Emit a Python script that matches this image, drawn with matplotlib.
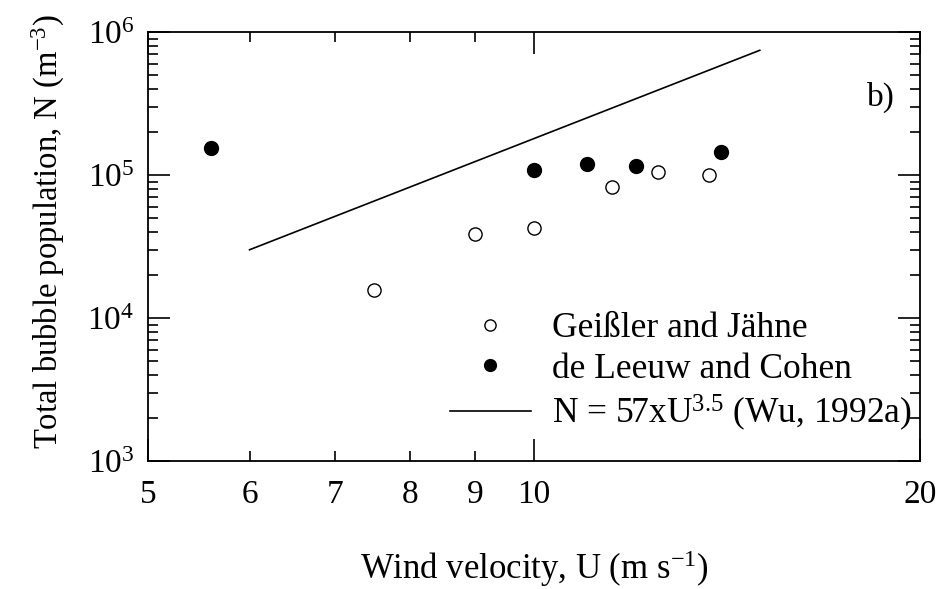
import matplotlib
matplotlib.use("Agg")
import matplotlib.pyplot as plt
from matplotlib.ticker import NullFormatter, FixedLocator, LogLocator

plt.rcParams['font.family'] = ['Liberation Serif', 'DejaVu Serif']
plt.rcParams['mathtext.fontset'] = 'custom'
plt.rcParams['mathtext.rm'] = 'Liberation Serif'
plt.rcParams['mathtext.it'] = 'Liberation Serif:italic'
plt.rcParams['mathtext.bf'] = 'Liberation Serif:bold'

# Data
geissler_U = [7.5, 9.0, 10.0, 11.5, 12.5, 13.7]
geissler_N = [1.57e4, 3.86e4, 4.26e4, 8.2e4, 1.05e5, 1.0e5]
leeuw_U = [5.6, 10.0, 11.0, 12.0, 14.0]
leeuw_N = [1.55e5, 1.08e5, 1.19e5, 1.16e5, 1.45e5]
wu_U = [6.0, 15.0]
wu_N = [3.0e4, 7.45e5]

x_major = [5, 10, 20]
x_minor = [6, 7, 8, 9]
y_major = [1e3, 1e4, 1e5, 1e6]
y_major_labels = [r'$10^{3}$', r'$10^{4}$', r'$10^{5}$', r'$10^{6}$']

FS = 24

fig = plt.figure(figsize=(9.4, 5.89), dpi=100)
ax = fig.add_axes([148/940, 1-461/589, (920-148)/940, (461-32)/589])
ax.set_xscale('log')
ax.set_yscale('log')
ax.set_xlim(5, 20)
ax.set_ylim(1e3, 1e6)

ax.plot(geissler_U, geissler_N, 'o', ms=9.5, mfc='white', mec='black', mew=1.0,
        linestyle='none', label='Geißler and Jähne')
ax.plot(leeuw_U, leeuw_N, 'o', ms=10, mfc='black', mec='black',
        linestyle='none', label='de Leeuw and Cohen')
ax.plot(wu_U, wu_N, '-', color='black', lw=1.2,
        label=r'N = 57xU$^{3.5}$ (Wu, 1992a)')

ax.xaxis.set_major_locator(FixedLocator(x_major))
ax.xaxis.set_minor_locator(FixedLocator(x_minor))
ax.set_xticklabels([str(v) for v in x_major])
ax.set_xticklabels([str(v) for v in x_minor], minor=True)

ax.yaxis.set_major_locator(FixedLocator(y_major))
ax.set_yticklabels(y_major_labels)
ax.yaxis.set_minor_locator(LogLocator(base=10, subs=range(2, 10)))
ax.yaxis.set_minor_formatter(NullFormatter())

ax.tick_params(which='both', direction='in', top=True, right=True,
               labelsize=FS, width=1.2, color='black')
ax.tick_params(which='major', length=16)
ax.tick_params(which='minor', length=7)
ax.tick_params(axis='x', which='both', pad=13)
ax.tick_params(axis='y', which='both', pad=10)

for sp in ax.spines.values():
    sp.set_linewidth(1.3)

ax.set_xlabel(r'Wind velocity, U (m s$^{-1}$)', fontsize=FS + 1, labelpad=28)
ax.set_ylabel(r'Total bubble population, N (m$^{-3}$)', fontsize=FS - 0.5)
ax.yaxis.set_label_coords(-0.105, 0.535)

ax.text(18.2, 3.5e5, 'b)', fontsize=FS, ha='left', va='center')

leg = ax.legend(loc='lower right', bbox_to_anchor=(0.99, 0.065), frameon=False,
                fontsize=FS + 1.5, handlelength=2.3, handletextpad=0.6,
                labelspacing=0.2, markerscale=0.85, borderaxespad=0.0,
                borderpad=0.0)

fig.savefig('out.png', dpi=100)
